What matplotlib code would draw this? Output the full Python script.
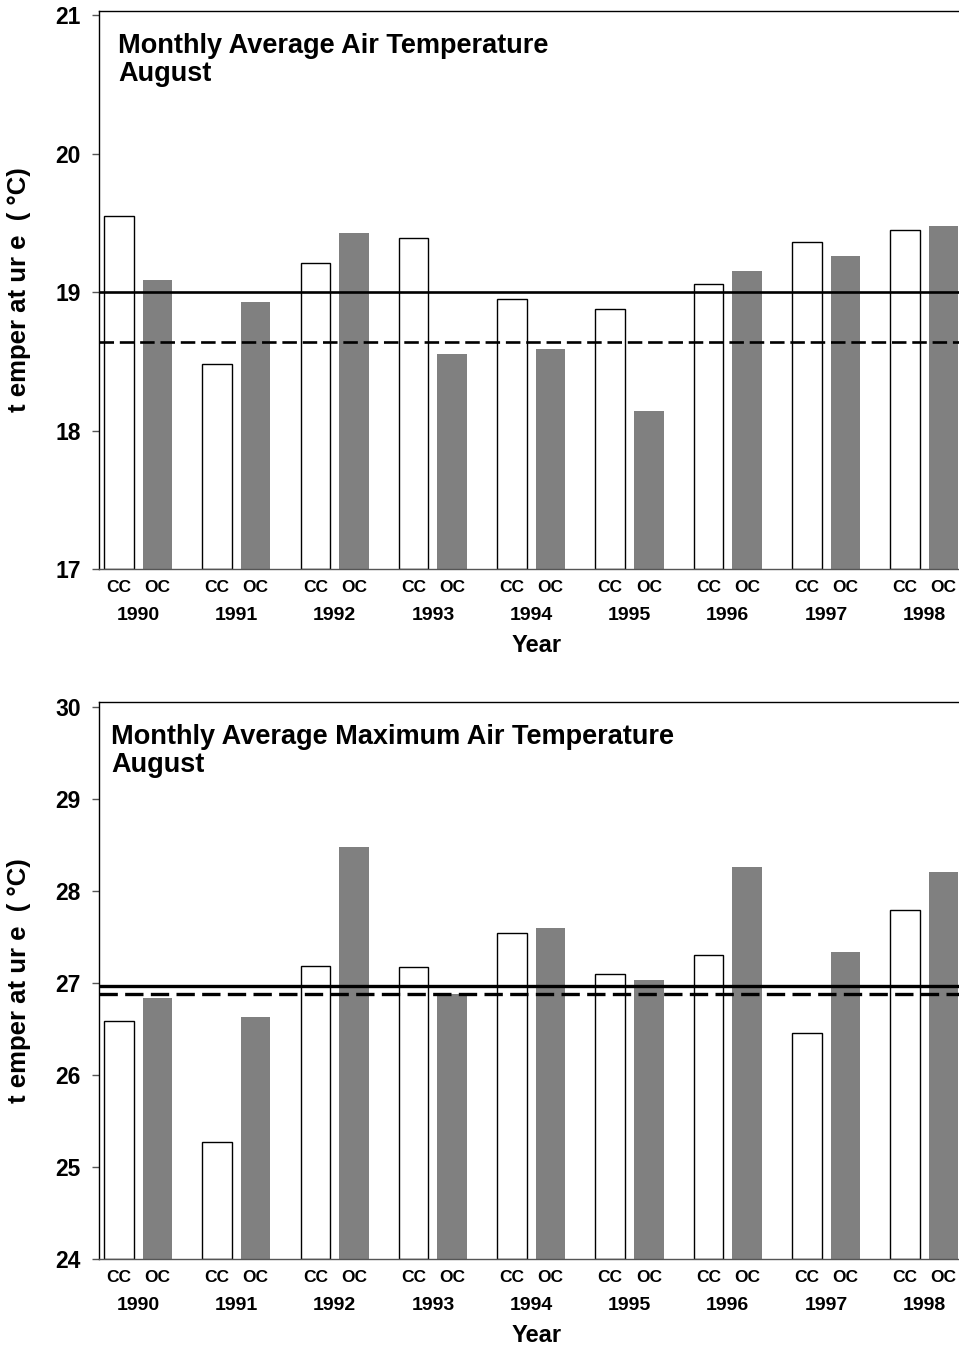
import numpy as np
import matplotlib
matplotlib.use("Agg")
import matplotlib.pyplot as plt
from matplotlib import transforms

plt.rcParams['font.family'] = ['Liberation Sans', 'DejaVu Sans']

years = ['1990', '1991', '1992', '1993', '1994', '1995', '1996', '1997', '1998']

# monthly average air temperature, August
avg_cc = [19.55, 18.48, 19.21, 19.39, 18.95, 18.88, 19.06, 19.36, 19.45]
avg_oc = [19.09, 18.93, 19.43, 18.55, 18.59, 18.14, 19.15, 19.26, 19.48]
avg_cc_mean = 19.0
avg_oc_mean = 18.64

# monthly average maximum air temperature, August
max_cc = [26.58, 25.27, 27.18, 27.17, 27.54, 27.10, 27.30, 26.46, 27.79]
max_oc = [26.83, 26.63, 28.47, 26.88, 27.59, 27.03, 28.26, 27.33, 28.20]
max_cc_mean = 26.96
max_oc_mean = 26.88


def panel(ax, cc, oc, cc_mean, oc_mean, ylo, yhi, line_w):
    x = np.arange(len(years))
    off = 0.196
    w = 0.3
    ax.bar(x - off, [v - ylo for v in cc], w, bottom=ylo, color='white',
           edgecolor='black', linewidth=1.0)
    ax.bar(x + off, [v - ylo for v in oc], w, bottom=ylo, color='#808080',
           edgecolor='none')
    ax.axhline(cc_mean, color='black', lw=line_w, zorder=3)
    ax.axhline(oc_mean, color='black', lw=line_w, ls=(0, (5.5, 2.2)), zorder=3)

    ax.set_xlim(-0.397, 8.352)
    ax.set_ylim(ylo, yhi)
    ax.set_yticks(np.arange(ylo, int(yhi) + 1, 1))
    ax.tick_params(axis='y', direction='out', length=5, width=1, color='#555555',
                   labelsize=16.5, pad=8)
    for t in ax.get_yticklabels():
        t.set_fontweight('bold')

    pos = np.concatenate([x - off, x + off])
    labs = ['CC'] * len(x) + ['OC'] * len(x)
    ax.set_xticks(pos)
    ax.set_xticklabels(labs, fontsize=12.5, fontweight='bold')
    ax.tick_params(axis='x', length=0, pad=8)
    trans = transforms.blended_transform_factory(ax.transData, ax.transAxes)
    for i, yr in enumerate(years):
        ax.text(i, -0.083, yr, transform=trans, ha='center', va='center',
                fontsize=14, fontweight='bold')

    ax.set_ylabel('t emper at ur e  ( °C)', fontsize=18.5, fontweight='bold')
    ax.yaxis.set_label_coords(-68 / 860, 0.5)
    ax.spines['right'].set_visible(False)
    for s in ['left', 'bottom', 'top']:
        ax.spines[s].set_linewidth(1.0)
    ax.spines['bottom'].set_color('#555555')
    return ax


fig = plt.figure(figsize=(9.59, 13.49), dpi=100)

ax1 = fig.add_axes([99 / 959, 1 - 569 / 1349, 860 / 959, 558 / 1349])
panel(ax1, avg_cc, avg_oc, avg_cc_mean, avg_oc_mean, 17, 21.03, 1.9)
fig.text(118 / 959, 1 - 33 / 1349, 'Monthly Average Air Temperature\nAugust',
         fontsize=19.5, fontweight='bold', va='top', ha='left', linespacing=1.12)
fig.text(537 / 959, 1 - 645 / 1349, 'Year', fontsize=17, fontweight='bold',
         ha='center', va='center')

ax2 = fig.add_axes([99 / 959, 1 - 1259 / 1349, 860 / 959, 557 / 1349])
panel(ax2, max_cc, max_oc, max_cc_mean, max_oc_mean, 24, 30.05, 2.4)
fig.text(111 / 959, 1 - 724 / 1349, 'Monthly Average Maximum Air Temperature\nAugust',
         fontsize=19.5, fontweight='bold', va='top', ha='left', linespacing=1.12)
fig.text(537 / 959, 1 - 1336 / 1349, 'Year', fontsize=17, fontweight='bold',
         ha='center', va='center')

fig.savefig('out.png', dpi=100)
